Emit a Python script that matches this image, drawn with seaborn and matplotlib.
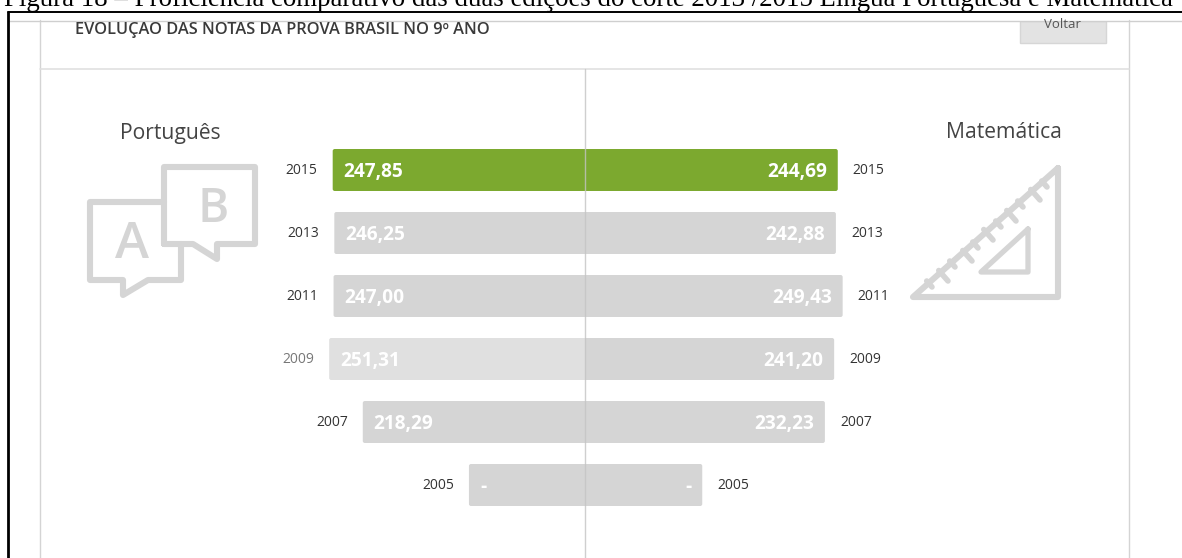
import pandas as pd
import matplotlib
matplotlib.use('Agg')
import matplotlib.pyplot as plt
from matplotlib.patches import FancyBboxPatch, Rectangle
import seaborn as sns

# data
years = ['2015', '2013', '2011', '2009', '2007', '2005']
portugues = [247.85, 246.25, 247.00, 251.31, 218.29, None]
matematica = [244.69, 242.88, 249.43, 241.20, 232.23, None]
# 2005 has no score, the page still draws a stub bar
stub_port = 114
stub_mat = 113.5

GRAY = '#d5d5d5'
GREEN = '#7ca92f'
LIGHT = '#e0e0e0'
W, H = 1182, 558

sns.set_theme(style='white')
plt.rcParams['font.family'] = ['Open Sans', 'DejaVu Sans']

fig = plt.figure(figsize=(W / 100, H / 100), dpi=100)


def fmt(v):
    return '-' if v is None else f'{v:.2f}'.replace('.', ',')


def px_axes(left, top, right, bottom, **kw):
    return fig.add_axes([left / W, 1 - bottom / H, (right - left) / W, (bottom - top) / H], **kw)


# page furniture, in pixel coords
bg = px_axes(0, 0, W, H)
bg.set_xlim(0, W)
bg.set_ylim(H, 0)
bg.axis('off')

bg.text(4, 6.5, 'Figura 18 – Proficiência comparativo das duas edições do corte 2013 /2015 Língua Portuguesa e Matemática',
        family='Liberation Serif', fontsize=19.33, color='black', va='baseline', clip_on=True)
bg.add_patch(Rectangle((8, 12), W, 9, fc='white', ec='none', zorder=2))
bg.plot([8, W], [12, 12], color='black', lw=1.4, zorder=3)
bg.plot([8, W], [20.5, 20.5], color='#cfcfcf', lw=1, zorder=3)
bg.plot([7.5, 7.5], [12, H], color='black', lw=2, zorder=3)
bg.plot([40, 40], [20, H], color='#d4d4d4', lw=1)
bg.plot([1129, 1129], [20, H], color='#d4d4d4', lw=1)
bg.plot([40, 1129], [69, 69], color='#e0e0e0', lw=1.2)

bg.add_patch(Rectangle((1020, 21), 86, 22, fc='#e3e3e3', ec='#d6d6d6', lw=1))
bg.text(1063, 28.5, 'Voltar', fontsize=9.5, color='#555555', ha='center', va='baseline')
bg.text(75, 33.5, 'EVOLUÇAO DAS NOTAS DA PROVA BRASIL NO 9º ANO', fontsize=11.8,
        weight='semibold', color='#3a3a3a', va='baseline')
bg.text(170, 138.5, 'Português', fontsize=15.2, color='#444444', ha='center', va='baseline')
bg.text(1004, 138.5, 'Matemática', fontsize=15.2, color='#444444', ha='center', va='baseline')

# A/B speech bubbles
icon = dict(color=GRAY, lw=4.4, solid_joinstyle='round', solid_capstyle='round')
bg.plot([164, 164, 255, 255, 217, 217, 193, 164], [244, 167, 167, 244, 244, 259, 244, 244], **icon)
bg.plot([164, 90, 90, 123, 123, 148, 181, 181], [202, 202, 280, 280, 295, 280, 280, 244], **icon)
bg.text(132, 258, 'A', fontsize=37, weight='semibold', color=GRAY, ha='center', va='baseline')
bg.text(213, 222, 'B', fontsize=34, weight='semibold', color=GRAY, ha='center', va='baseline')

# set square
bg.plot([1058, 1058, 913, 1058], [168, 297, 297, 168], **icon)
bg.plot([1028, 1028, 981, 1028], [229, 272, 272, 229], color=GRAY, lw=3.8, solid_joinstyle='round')
tick_ends = [(1040, 200), (1016, 221), (993, 240), (972, 261), (948, 281),
             (1047, 187), (1023, 207), (1001, 227), (978, 248), (955, 267), (932, 287)]
for i, (xe, ye) in enumerate(tick_ends):
    d = 14 if i < 5 else 8
    bg.plot([xe - d * .66, xe], [ye - d * .75, ye], color=GRAY, lw=4, solid_capstyle='round')

# the two halves of the mirrored chart
top, bottom = 138.5, 516.5
centre = 585
span = 400
scales = {'left': 1.018, 'right': 1.033}

df = pd.DataFrame({'ano': years,
                   'port': [stub_port if v is None else v for v in portugues],
                   'mat': [stub_mat if v is None else v for v in matematica]})

ax_l = px_axes(centre - span, top, centre, bottom, facecolor='none')
ax_r = px_axes(centre, top, centre + span, bottom, facecolor='none')

sns.barplot(data=df, x='port', y='ano', ax=ax_l, color=GRAY, width=2 / 3, saturation=1)
sns.barplot(data=df, x='mat', y='ano', ax=ax_r, color=GRAY, width=2 / 3, saturation=1)
ax_l.set_xlim(span / scales['left'], 0)
ax_r.set_xlim(0, span / scales['right'])

for ax, side, vals in [(ax_l, 'left', portugues), (ax_r, 'right', matematica)]:
    ax.axis('off')
    sc = scales[side]
    # rounded corners, the ones on the centre line get clipped by the axes
    for i, p in enumerate(list(ax.patches)):
        colour = GREEN if i == 0 else GRAY
        if side == 'left' and i == 3:
            colour = LIGHT
        x0, y0, w, h = p.get_x(), p.get_y(), p.get_width(), p.get_height()
        p.remove()
        ax.add_patch(FancyBboxPatch((x0 - 5, y0), w + 5, h, boxstyle='round,pad=0,rounding_size=2',
                                    mutation_aspect=1 / 63 * sc, fc=colour, ec='none'))
        ax.text(w - 11 / sc, i + .025, fmt(vals[i]), color='white', fontsize=13.8, weight='bold',
                ha='right' if side == 'right' else 'left', va='center')
        ax.text(w + 15 / sc, i + .015, years[i], fontsize=10,
                color='#777777' if (side == 'left' and i == 3) else '#333333',
                ha='left' if side == 'right' else 'right', va='center')

# centre line runs over the bars
fg = px_axes(0, 0, W, H, facecolor='none')
fg.set_xlim(0, W)
fg.set_ylim(H, 0)
fg.axis('off')
fg.plot([centre, centre], [69, H], color='#c4c4c4', lw=1, alpha=.8)

fig.savefig('out.png', dpi=100)
